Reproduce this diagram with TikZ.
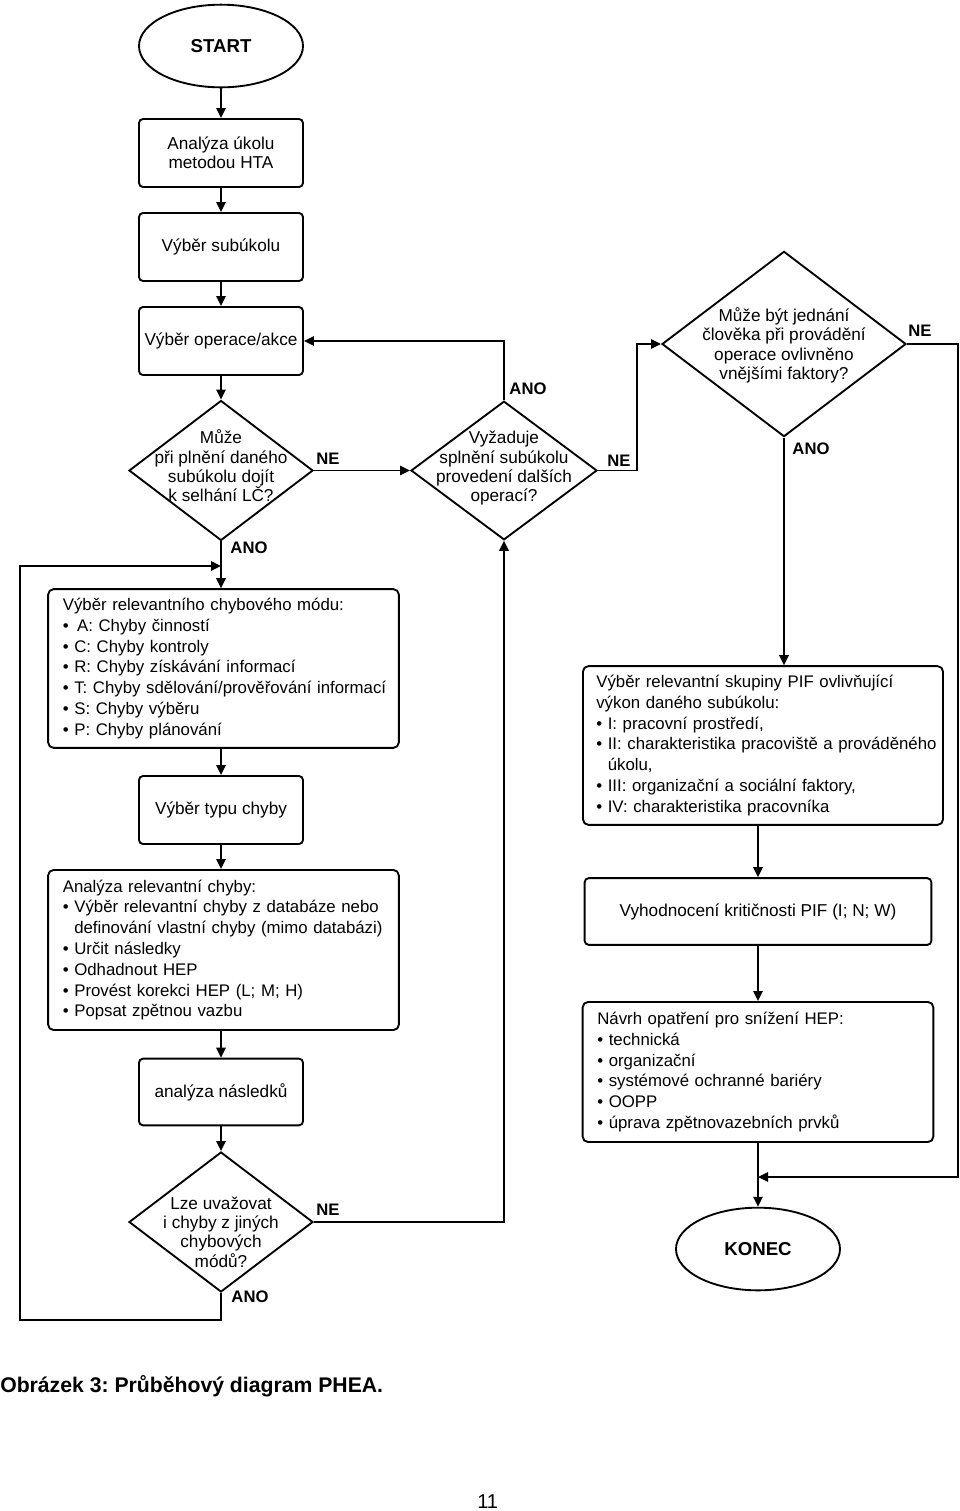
\documentclass[tikz,border=0pt]{standalone}
\usepackage{fontspec}
\setmainfont{Liberation Sans}
\usetikzlibrary{shapes.geometric,arrows.meta}
\frenchspacing
\newcommand\boxfont{\fontsize{12.9}{14.5}\selectfont}
\newcommand\listfont{\fontsize{12.6}{15.6}\selectfont}
\newcommand\labfont{\bfseries\fontsize{12.5}{14}\selectfont}
\newcommand\bul{•\ }
\newcommand\ind{\hphantom{•\ }}
\tikzset{
  ln/.style={line width=1.4pt},
  arr/.style={ln,-{Triangle[length=7.5pt,width=7pt]}},
  box/.style={draw,ln,rounded corners=3pt,inner sep=0pt,align=center,font=\boxfont,
     minimum width=123pt,minimum height=51pt},
  listbox/.style={draw,ln,rounded corners=4pt,inner ysep=0pt,align=left,font=\listfont},
  term/.style={draw,ln,ellipse,inner sep=0pt,font=\bfseries\fontsize{14}{16}\selectfont,
     minimum width=123pt,minimum height=62pt},
  dia/.style={draw,ln,diamond,inner sep=0pt},
  dtext/.style={align=center,font=\boxfont,inner sep=0pt},
  lab/.style={font=\labfont,inner sep=0pt},
}
\begin{document}
\begin{tikzpicture}[x=0.75pt,y=-0.75pt]
\useasboundingbox (0,0) rectangle (960,1511);

% left column
\node[term] (start) at (221,46) {START};
\node[box] (b1) at (221,153) {Analýza úkolu\\metodou HTA};
\node[box] (b2) at (221,247) {Výběr subúkolu};
\node[box] (b3) at (221,341) {Výběr operace/akce};
\node[dia,minimum width=138pt,minimum height=105pt] (d1) at (221,470.5) {};
\node[dtext] (t1) at (221,466) {Může\\při plnění daného\\subúkolu dojít\\k selhání LČ?};
\node[dia,minimum width=139.5pt,minimum height=104pt] (d2) at (504,470.5) {};
\node[dtext] (t2) at (504,468.5) {Vyžaduje\\splnění subúkolu\\provedení dalších\\operací?};
\node[dia,minimum width=183pt,minimum height=139pt] (d3) at (784,344) {};
\node[dtext] (t3) at (784,345.5) {Může být jednání\\člověka při provádění\\operace ovlivněno\\vnějšími faktory?};

\node[listbox,minimum width=263pt,minimum height=119pt,text width=241pt,inner xsep=11pt] (m1) at (223.5,668.5)
 {Výběr relevantního chybového módu:\\
  \bul\,A: Chyby činností\\
  \bul C: Chyby kontroly\\
  \bul R: Chyby získávání informací\\
  \mbox{\bul T: Chyby sdělování/prověřování informací}\\
  \bul S: Chyby výběru\\
  \bul P: Chyby plánování};
\node[box] (b4) at (221,810) {Výběr typu chyby};
\node[listbox,minimum width=263pt,minimum height=120pt,text width=241pt,inner xsep=11pt] (m2) at (223.5,950)
 {Analýza relevantní chyby:\\
  \mbox{\bul Výběr relevantní chyby z databáze nebo}\\
  \mbox{\ind definování vlastní chyby (mimo databázi)}\\
  \bul Určit následky\\
  \bul Odhadnout HEP\\
  \bul Provést korekci HEP (L; M; H)\\
  \bul Popsat zpětnou vazbu};
\node[box,minimum height=50pt] (b5) at (221,1092) {analýza následků};
\node[dia,minimum width=138pt,minimum height=105pt] (d4) at (221,1222) {};
\node[dtext] (t4) at (221,1232) {Lze uvažovat\\i chyby z jiných\\chybových\\módů?};

% right column
\node[listbox,minimum width=270pt,minimum height=119pt,text width=250pt,inner xsep=10pt] (pif) at (763,745.5)
 {\mbox{Výběr relevantní skupiny PIF ovlivňující}\\
  výkon daného subúkolu:\\
  \bul I: pracovní prostředí,\\
  \mbox{\bul II: charakteristika pracoviště a prováděného}\\
  \ind úkolu,\\
  \bul III: organizační a sociální faktory,\\
  \bul IV: charakteristika pracovníka};
\node[box,minimum width=260pt,minimum height=50pt] (vyh) at (758,911.5) {Vyhodnocení kritičnosti PIF (I; N; W)};
\node[listbox,minimum width=263pt,minimum height=105pt,text width=241pt,inner xsep=11pt] (navrh) at (758,1072)
 {Návrh opatření pro snížení HEP:\\
  \bul technická\\
  \bul organizační\\
  \bul systémové ochranné bariéry\\
  \bul OOPP\\
  \bul úprava zpětnovazebních prvků};
\node[term] (konec) at (758,1249) {KONEC};

% labels
\node[lab] (l1) at (328,459) {NE};
\node[lab] (l2) at (249,548) {ANO};
\node[lab] (l3) at (528,389) {ANO};
\node[lab] (l4) at (619,461) {NE};
\node[lab] (l5) at (920,331) {NE};
\node[lab] (l6) at (811,449) {ANO};
\node[lab] (l7) at (328,1210) {NE};
\node[lab] (l8) at (250,1297) {ANO};

% coordinates
\coordinate (c1) at (637,470.5);
\coordinate (c2) at (958,1177);
\coordinate (loopB) at (20,1320);
\coordinate (loopT) at (20,566);

% connectors
\draw[arr] (start) -- (b1);
\draw[arr] (b1) -- (b2);
\draw[arr] (b2) -- (b3);
\draw[arr] (b3) -- (d1);
\draw[arr] (d1.east) -- (d2.west);
\draw[arr] (d2.north) |- (b3.east);
\draw[arr] (d2.east) -- (c1) |- (d3.west);
\draw[arr] (d3.south) -- (d3.south |- pif.north);
\draw[arr] (d3.east) -| (c2) -- (c2 -| konec.north);
\draw[arr] (vyh.north |- pif.south) -- (vyh.north);
\draw[arr] (vyh) -- (navrh);
\draw[arr] (navrh) -- (konec);
\draw[arr] (d1.south) -- (d1.south |- m1.north);
\draw[arr] (b4.north |- m1.south) -- (b4.north);
\draw[arr] (b4.south) -- (b4.south |- m2.north);
\draw[arr] (b5.north |- m2.south) -- (b5.north);
\draw[arr] (b5) -- (d4);
\draw[arr] (d4.east) -| (d2.south);
\draw[arr] (d4.south) |- (loopB) -- (loopT) -- (d1.south |- loopT);

% caption
\node[anchor=base west,inner sep=0pt,font=\bfseries\fontsize{15.9}{18}\selectfont] (cap) at (0,1392) {Obrázek 3: Průběhový diagram PHEA.};
\node[anchor=base west,inner sep=0pt,font=\fontsize{15}{18}\selectfont] (pg) at (477,1508) {11};
\end{tikzpicture}
\end{document}
